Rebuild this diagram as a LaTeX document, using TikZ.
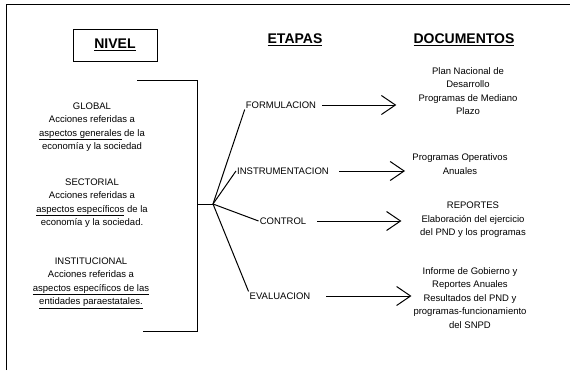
\documentclass[tikz,border=0pt]{standalone}
\usepackage{fontspec}
\setmainfont{Liberation Sans}
\usepackage{tikz}
\usetikzlibrary{arrows.meta}

\begin{document}
\begin{tikzpicture}[x=1pt,y=-1pt,
    titulo/.style={font=\fontsize{14}{16}\selectfont\bfseries},
    etapa/.style={font=\fontsize{9.5}{12}\selectfont, inner sep=1pt},
    texto/.style={font=\fontsize{9.5}{13.5}\selectfont, align=center, inner sep=0pt},
    flecha/.style={-{Straight Barb[length=14pt,width=19pt,line width=1pt]}, line width=0.9pt},
    linea/.style={line width=1pt}]
        \useasboundingbox (0,0) rectangle (570,370);
        % marco y llave
        \draw[linea] (6,370) -- (6,4) -- (570,4);
        \draw[linea] (137,80) -- (197,80) -- (197,331) -- (143,331);
        \coordinate (llave) at (197,204);
        \coordinate (fan) at (213,204);
        \draw[linea] (llave) -- (fan);
        % titulos
        \node[titulo, draw, line width=1pt, minimum width=84pt, minimum height=32pt] (nivel) at (115,45) {\underline{NIVEL}};
        \node[titulo] (etapas) at (295,40) {\underline{ETAPAS}};
        \node[titulo] (docs) at (464,40) {\underline{DOCUMENTOS}};
        % niveles
        \node[texto] (global) at (92,127) {GLOBAL\\Acciones referidas a\\\underline{aspectos generales} de la\\econom\'ia y la sociedad};
        \node[texto] (sectorial) at (92,203) {SECTORIAL\\Acciones referidas a\\\underline{aspectos espec\'ificos} de la\\econom\'ia y la sociedad.};
        \node[texto] (instit) at (91,283) {INSTITUCIONAL\\Acciones referidas a\\\underline{aspectos espec\'ificos de las}\\\underline{entidades paraestatales.}};
        % etapas
        \node[etapa] (form) at (281,105) {FORMULACION};
        \node[etapa] (instr) at (283,171) {INSTRUMENTACION};
        \node[etapa] (ctrl) at (283,221) {CONTROL};
        \node[etapa] (eval) at (280,296) {EVALUACION};
        \draw[linea] (fan) -- (form.south west);
        \draw[linea] (fan) -- (instr.west);
        \draw[linea] (fan) -- (ctrl.west);
        \draw[linea] (fan) -- (eval.north west);
        % documentos
        \node[texto] (doc1) at (468,91) {Plan Nacional de\\Desarrollo\\Programas de Mediano\\Plazo};
        \node[texto] (doc2) at (460,164) {Programas Operativos\\Anuales};
        \node[texto] (doc3) at (473,220) {REPORTES\\Elaboraci\'on del ejercicio\\del PND y los programas};
        \node[texto] (doc4) at (470,298) {Informe de Gobierno y\\Reportes Anuales\\Resultados del PND y\\programas-funcionamiento\\del SNPD};
        \foreach \n/\a/\b in {form/5/79, instr/9/75, ctrl/10/94, eval/15/100}
            \draw[flecha] ([xshift=\a pt]\n.east) -- ([xshift=\b pt]\n.east);
    \end{tikzpicture}
\end{document}
